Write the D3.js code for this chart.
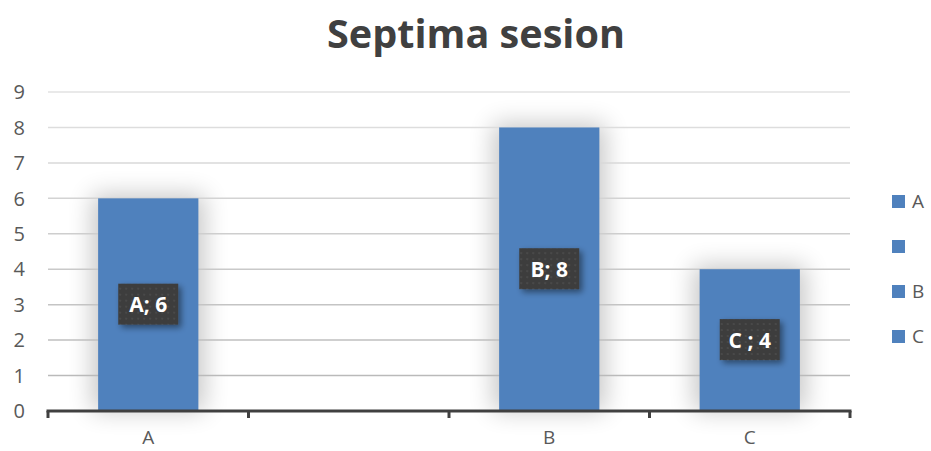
<!DOCTYPE html>
<html><head><meta charset="utf-8">
<script src="https://cdn.jsdelivr.net/npm/d3@7"></script>
<style>body{margin:0;background:#fff}svg{display:block}</style>
</head><body>
<svg id="c" width="931" height="451"></svg>
<script>
const categories = ["A", "", "B", "C"];
const values = [6, null, 8, 4];
const labels = ["A; 6", null, "B; 8", "C ; 4"];
const yTicks = [0,1,2,3,4,5,6,7,8,9];
const legendItems = ["A", "", "B", "C"];
const title = "Septima sesion";

const W = 931, H = 451;
const m = {left: 48, right: 81, top: 92, bottom: 40};
const svg = d3.select("#c");
const defs = svg.append("defs");

const glow = defs.append("filter").attr("id","glow").attr("x","-50%").attr("y","-50%").attr("width","200%").attr("height","200%");
glow.append("feGaussianBlur").attr("stdDeviation", 12);

const sh = defs.append("filter").attr("id","sh").attr("x","-30%").attr("y","-30%").attr("width","160%").attr("height","160%");
sh.append("feGaussianBlur").attr("in","SourceAlpha").attr("stdDeviation",3).attr("result","b");
sh.append("feOffset").attr("dx",3).attr("dy",3).attr("result","o");
sh.append("feComponentTransfer").append("feFuncA").attr("type","linear").attr("slope",0.45);
const mg = sh.append("feMerge"); mg.append("feMergeNode"); mg.append("feMergeNode").attr("in","SourceGraphic");

const pat = defs.append("pattern").attr("id","dots").attr("width",6).attr("height",6).attr("patternUnits","userSpaceOnUse");
pat.append("rect").attr("width",6).attr("height",6).attr("fill","#3c3c3c");
pat.append("rect").attr("x",1).attr("y",1).attr("width",2).attr("height",2).attr("fill","#4a4a4a");

const x = d3.scaleBand().domain(d3.range(categories.length)).range([m.left, W - m.right]).paddingInner(0).paddingOuter(0);
const y = d3.scaleLinear().domain([0, 9]).range([H - m.bottom, m.top]);
const y0 = y(0);
const FONT = "'Open Sans', 'Noto Sans', sans-serif";

// title
const t = svg.append("text").attr("x", 476).attr("y", 48).attr("text-anchor","middle")
  .attr("font-family",FONT).attr("font-weight","bold")
  .attr("font-size", 40).attr("fill","#404040").text(title);
const tl = t.node().getComputedTextLength();
t.attr("font-size", 40 * 298 / tl);

// bar glow
const bw = x.bandwidth() * 0.5;
svg.append("g").selectAll("rect").data(values.map((v,i)=>({v,i})).filter(d=>d.v!=null)).join("rect")
  .attr("x", d => x(d.i) + x.bandwidth()/2 - bw/2 - 6)
  .attr("y", d => y(d.v) - 4)
  .attr("width", bw + 12).attr("height", d => y0 - y(d.v) + 4)
  .attr("fill","#000").attr("opacity",0.22).attr("filter","url(#glow)");

// gridlines
const gc = d3.scaleLinear().domain([9,0]).range(["#e2e2e2","#b5b5b5"]);
svg.append("g").selectAll("line").data(yTicks.filter(d=>d>0)).join("line")
  .attr("x1", m.left).attr("x2", W - m.right)
  .attr("y1", d => y(d)).attr("y2", d => y(d))
  .attr("stroke", d => gc(d)).attr("stroke-width", 1.5);

// y labels
svg.append("g").selectAll("text").data(yTicks).join("text")
  .attr("x", 25).attr("y", d => y(d)).attr("dy","0.36em").attr("text-anchor","end")
  .attr("font-family",FONT).attr("font-size",20).attr("fill","#595959")
  .text(d => d);

// bars
svg.append("g").selectAll("rect").data(values.map((v,i)=>({v,i})).filter(d=>d.v!=null)).join("rect")
  .attr("x", d => x(d.i) + x.bandwidth()/2 - bw/2)
  .attr("y", d => y(d.v))
  .attr("width", bw).attr("height", d => y0 - y(d.v))
  .attr("fill","#4f81bd");

// x axis
const ax = svg.append("g");
ax.append("line").attr("x1", m.left - 1.5).attr("x2", W - m.right + 1.5).attr("y1", y0).attr("y2", y0)
  .attr("stroke","#404040").attr("stroke-width",3);
const tickXs = d3.range(categories.length).map(i => x(i)).concat([x(categories.length-1) + x.bandwidth()]);
ax.selectAll("line.t").data(tickXs).join("line").attr("class","t")
  .attr("x1", d=>d).attr("x2", d=>d).attr("y1", y0).attr("y2", y0 + 7)
  .attr("stroke","#404040").attr("stroke-width",3);
ax.selectAll("text").data(categories).join("text")
  .attr("x", (d,i) => x(i) + x.bandwidth()/2).attr("y", 444).attr("text-anchor","middle")
  .attr("font-family",FONT).attr("font-size",19).attr("fill","#595959")
  .text(d => d);

// data labels
const lg = svg.append("g").selectAll("g").data(values.map((v,i)=>({v,i,l:labels[i]})).filter(d=>d.v!=null)).join("g")
  .attr("transform", d => `translate(${x(d.i) + x.bandwidth()/2},${y(d.v/2)})`);
lg.append("rect").attr("x",-30).attr("y",-21).attr("width",60).attr("height",41)
  .attr("fill","url(#dots)").attr("filter","url(#sh)");
lg.append("text").attr("text-anchor","middle").attr("dy","0.36em")
  .attr("font-family",FONT).attr("font-weight","bold").attr("font-size",21)
  .attr("fill","#fff").text(d => d.l);

// legend
const leg = svg.append("g").selectAll("g").data(legendItems).join("g")
  .attr("transform", (d,i) => `translate(892,${201.5 + i*45})`);
leg.append("rect").attr("x",0).attr("y",-6.5).attr("width",13).attr("height",13).attr("fill","#4f81bd");
leg.append("text").attr("x",20).attr("dy","0.36em")
  .attr("font-family",FONT).attr("font-size",19).attr("fill","#595959").text(d=>d);
</script>
</body></html>
